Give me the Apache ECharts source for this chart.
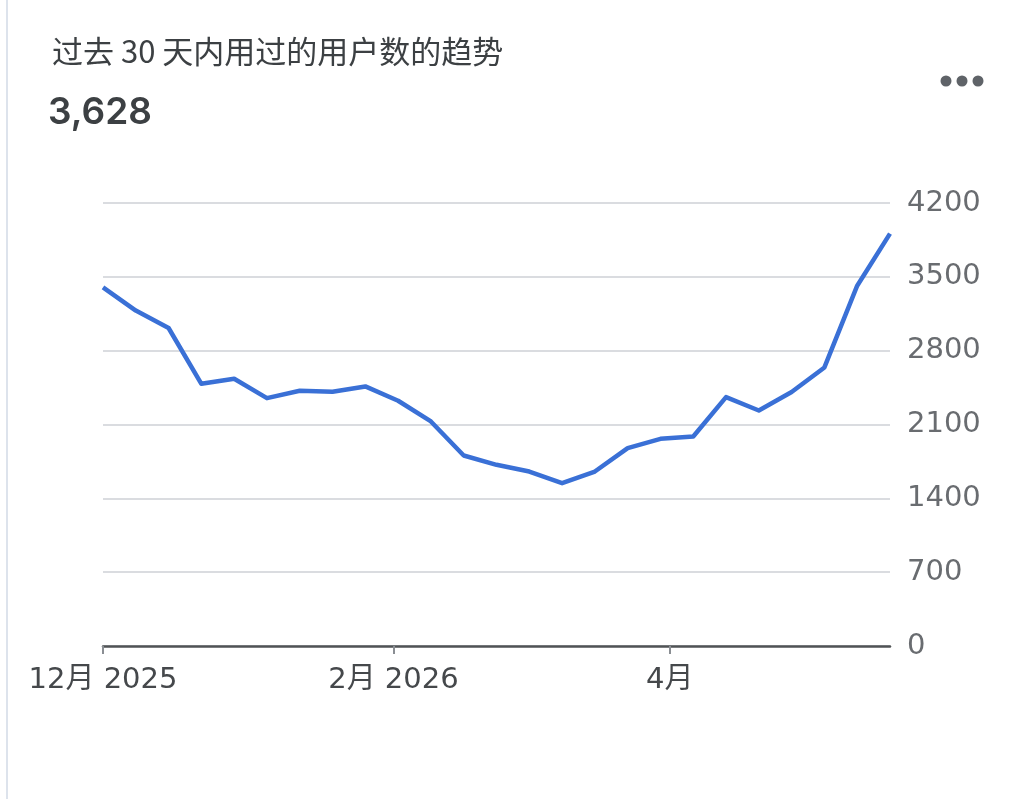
<!DOCTYPE html>
<html>
<head>
<meta charset="utf-8">
<script src="https://cdn.jsdelivr.net/npm/echarts@6/dist/echarts.min.js"></script>
<style>
  html, body { margin: 0; padding: 0; background: #fff; }
  #chart { width: 1024px; height: 799px; }
</style>
</head>
<body>
<div id="chart"></div>
<script>
// weekly points
const dates = [
  '2025-12-01', '2025-12-08', '2025-12-15', '2025-12-22', '2025-12-29',
  '2026-01-05', '2026-01-12', '2026-01-19', '2026-01-26', '2026-02-02',
  '2026-02-09', '2026-02-16', '2026-02-23', '2026-03-02', '2026-03-09',
  '2026-03-16', '2026-03-23', '2026-03-30', '2026-04-06', '2026-04-13',
  '2026-04-20', '2026-04-27', '2026-05-04', '2026-05-11', '2026-05-18'
];
const users = [
  3400, 3180, 3015, 2486, 2534,
  2350, 2420, 2410, 2461, 2325,
  2129, 1806, 1718, 1654, 1544,
  1654, 1876, 1964, 1986, 2360,
  2233, 2408, 2641, 3416, 3910
];
const xTickDates = ['2025-12-01', '2026-02-01', '2026-04-01'];
const xTickLabels = ['12月 2025', '2月 2026', '4月'];
const yTicks = [0, 700, 1400, 2100, 2800, 3500, 4200];

const titleText = '过去 30 天内用过的用户数的趋势';
const headline = '3,628';

// days since the first date, so the x axis can be a plain value axis
const dayOf = (s) => {
  const [y, m, d] = s.split('-').map(Number);
  return Math.round(Date.UTC(y, m - 1, d) / 86400000);
};
const day0 = dayOf(dates[0]);
const xDay = (s) => dayOf(s) - day0;

const tickDays = xTickDates.map(xDay);

const labelFont = '"DejaVu Sans", "Noto Sans CJK SC", sans-serif';

const chart = echarts.init(document.getElementById('chart'));

chart.setOption({
  backgroundColor: '#fff',
  animation: false,
  title: [
    {
      text: titleText,
      left: 47,
      top: 31,
      textStyle: {
        fontFamily: '"Noto Sans CJK SC", Roboto, sans-serif',
        fontSize: 31,
        fontWeight: 'normal',
        color: '#3c4043'
      }
    },
    {
      text: headline,
      left: 43,
      top: 89,
      textStyle: {
        fontFamily: 'Inter, Roboto, sans-serif',
        fontSize: 37,
        fontWeight: 600,
        color: '#3c4043'
      }
    }
  ],
  graphic: [
    { type: 'rect', left: 6, top: 0, shape: { width: 2, height: 799 }, style: { fill: '#dde3ec' } },
    { type: 'circle', shape: { cx: 946, cy: 81, r: 5.5 }, style: { fill: '#5f6368' } },
    { type: 'circle', shape: { cx: 962, cy: 81, r: 5.5 }, style: { fill: '#5f6368' } },
    { type: 'circle', shape: { cx: 978, cy: 81, r: 5.5 }, style: { fill: '#5f6368' } }
  ],
  grid: {
    left: 103,
    right: 134,
    top: 203,
    bottom: 153
  },
  xAxis: {
    type: 'value',
    min: 0,
    max: xDay(dates[dates.length - 1]),
    axisLine: { show: true, onZero: false, lineStyle: { color: '#505355', width: 2.5 } },
    axisTick: {
      show: true,
      customValues: tickDays,
      length: 8,
      lineStyle: { color: '#8a8e93', width: 2 }
    },
    axisLabel: {
      customValues: tickDays,
      margin: 20,
      fontFamily: labelFont,
      fontSize: 29,
      color: '#45484b',
      formatter: (v) => {
        const i = tickDays.indexOf(v);
        return i >= 0 ? xTickLabels[i] : '';
      }
    },
    splitLine: { show: false }
  },
  yAxis: {
    type: 'value',
    position: 'right',
    min: yTicks[0],
    max: yTicks[yTicks.length - 1],
    interval: yTicks[1] - yTicks[0],
    axisLine: { show: false },
    axisTick: { show: false },
    axisLabel: {
      margin: 17,
      fontFamily: labelFont,
      fontSize: 29,
      color: '#696c70',
      formatter: (v) => String(v)
    },
    splitLine: { lineStyle: { color: '#dadce0', width: 2 } }
  },
  series: [
    {
      type: 'line',
      data: dates.map((d, i) => [xDay(d), users[i]]),
      showSymbol: false,
      lineStyle: { color: '#3a70d6', width: 4.5, join: 'round' },
      z: 3
    }
  ]
});
</script>
</body>
</html>
